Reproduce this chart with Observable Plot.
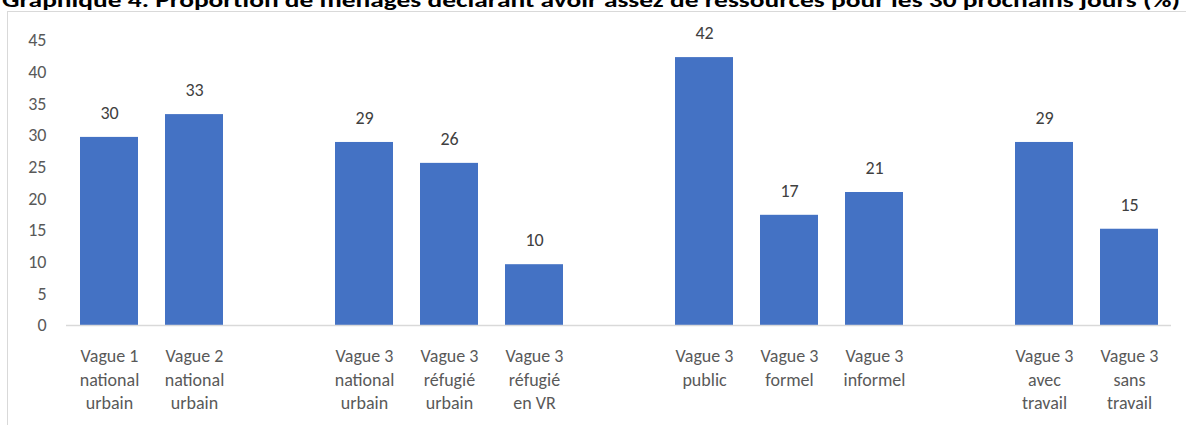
<!DOCTYPE html>
<html>
<head>
<meta charset="utf-8">
<script src="https://cdn.jsdelivr.net/npm/d3@7"></script>
<script src="https://cdn.jsdelivr.net/npm/@observablehq/plot@0.6"></script>
<style>
  html, body { margin: 0; padding: 0; background: #fff; overflow: hidden; }
  #wrap { position: relative; width: 1186px; height: 425px; overflow: hidden; }
  #frame { position: absolute; left: 7px; top: 11px; width: 1190px; height: 500px; border: 1px solid #d9d9d9; box-sizing: border-box; }
  #title { position: absolute; left: 0; top: 0; }
  #chart { position: absolute; left: 0; top: 0; }
</style>
</head>
<body>
<div id="wrap">
  <div id="frame"></div>
  <svg id="title" width="1186" height="12"></svg>
  <div id="chart"></div>
</div>
<script>
const titleText = "Graphique 4. Proportion de ménages déclarant avoir assez de ressources pour les 30 prochains jours (%)";
const categories = [
  "Vague 1\nnational\nurbain",
  "Vague 2\nnational\nurbain",
  "Vague 3\nnational\nurbain",
  "Vague 3\nréfugié\nurbain",
  "Vague 3\nréfugié\nen VR",
  "Vague 3\npublic",
  "Vague 3\nformel",
  "Vague 3\ninformel",
  "Vague 3\navec\ntravail",
  "Vague 3\nsans\ntravail"
];
const values = [29.7, 33.3, 28.9, 25.6, 9.6, 42.3, 17.4, 21.0, 28.9, 15.2];
const groups = [1, 1, 2, 2, 2, 3, 3, 3, 4, 4];
const yTicks = [0, 5, 10, 15, 20, 25, 30, 35, 40, 45];

const font = "Carlito, Calibri, Lato, 'Open Sans', sans-serif";

// title (cut off at the top, as in the reference)
const tsvg = d3.select("#title");
tsvg.append("text")
  .attr("x", 2).attr("y", 6.5)
  .attr("textLength", 1178).attr("lengthAdjust", "spacingAndGlyphs")
  .attr("font-family", font).attr("font-weight", "bold").attr("font-size", 20)
  .attr("fill", "#000")
  .text(titleText);

const data = categories.map((c, i) => ({key: "c" + i, label: c, value: values[i], group: groups[i]}));
const domain = [];
data.forEach((d, i) => {
  if (i > 0 && d.group !== data[i - 1].group) domain.push("gap" + i);
  domain.push(d.key);
});

const chart = Plot.plot({
  width: 1186,
  height: 425,
  marginLeft: 66,
  marginRight: 15,
  marginTop: 40,
  marginBottom: 100,
  style: {fontFamily: font, background: "transparent"},
  x: {domain, paddingInner: 0.32, paddingOuter: 0.16, axis: null},
  y: {domain: [0, 45], axis: null},
  marks: [
    Plot.axisY({ticks: yTicks, tickSize: 0, tickPadding: 20, fontSize: 18, fill: "#595959", tickFormat: d3.format("d"), label: null}),
    Plot.barY(data, {x: "key", y: "value", fill: "#4472c4"}),
    Plot.ruleY([0], {stroke: "#d9d9d9", strokeWidth: 1.5}),
    Plot.text(data, {x: "key", y: "value", text: d => d3.format(".0f")(d.value), dy: -24, fontSize: 18, fill: "#404040"}),
    Plot.text(data, {x: "key", y: 0, text: "label", dy: 20, lineAnchor: "top", lineHeight: 1.31, fontSize: 18, fill: "#595959"})
  ]
});
document.getElementById("chart").appendChild(chart);
</script>
</body>
</html>
